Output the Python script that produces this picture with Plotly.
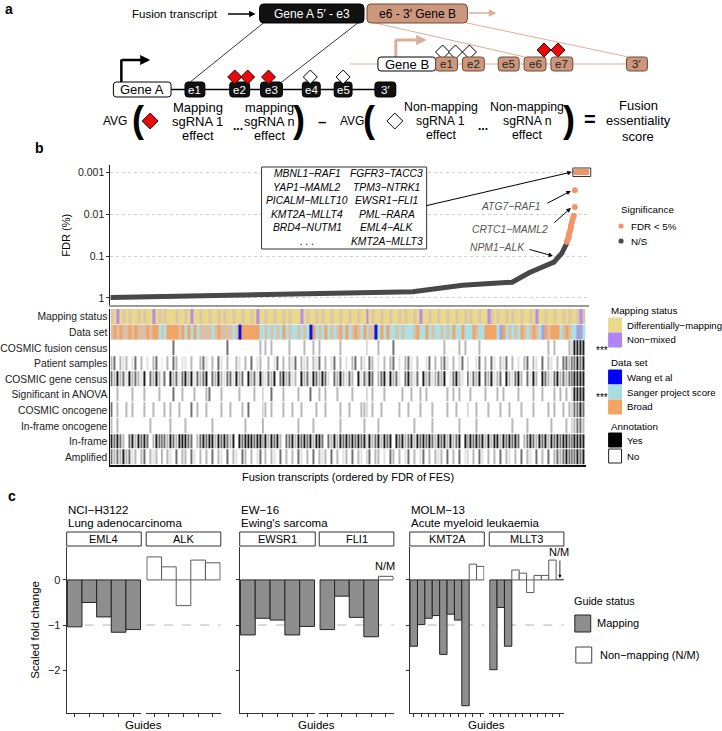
import plotly.graph_objects as go

W, H = 722, 731
FONT = "Liberation Sans, Arial, Helvetica, sans-serif"


def X(px):
    return px / W


def Y(py):
    return 1 - py / H


# ---------------- Panel b: FDR of fusion essentiality score ----------------
ns_rank = [0, 50, 100, 150, 200, 254, 304, 354, 404, 421, 434, 446, 454, 459]
ns_fdr = [0.98, 0.93, 0.88, 0.84, 0.80, 0.76, 0.71, 0.50, 0.42, 0.25, 0.18, 0.14, 0.085, 0.049]
sig_rank = [459, 460, 461, 461, 462, 463, 463, 464, 465, 466, 467, 467,
            468, 469, 470, 471, 472, 473, 474, 475, 476, 477, 478, 479, 480, 481]
sig_fdr = [0.046, 0.040, 0.035, 0.030, 0.026, 0.022, 0.019, 0.016, 0.013, 0.011, 0.0068, 0.0027,
           0.001, 0.001, 0.001, 0.001, 0.001, 0.001, 0.001, 0.001, 0.001, 0.001, 0.001, 0.001,
           0.001, 0.001]
fdr_ticks = [0.001, 0.01, 0.1, 1]
fdr_ticklabels = ["0.001", "0.01", "0.1", "1"]

top_fusions_left = ["MBNL1−RAF1", "YAP1−MAML2", "PICALM−MLLT10", "KMT2A−MLLT4", "BRD4−NUTM1", ". . ."]
top_fusions_right = ["FGFR3−TACC3", "TPM3−NTRK1", "EWSR1−FLI1", "PML−RARA", "EML4−ALK", "KMT2A−MLLT3"]

track_names = ["Mapping status", "Data set", "COSMIC fusion census", "Patient samples",
               "COSMIC gene census", "Significant in ANOVA", "COSMIC oncogene",
               "In-frame oncogene", "In-frame", "Amplified"]

# 0 differentially-mapping, 1 blended, 2 non-mixed
mapping_status = ("1020101001 0100201010 0010010200 1001001010 0100100102 0010010010 1000201001 0100100100 "
                  "1001002010 0100100101 0010200100 1001001001 0100100210 1001010010 0102001001 0010100121")
# 0 Broad, 1 blended, 2 Sanger, 3 Wang, 4 blended blue
data_set = ("1010110101 1101002120 0001020202 1111210111 1213000000 2212121202 1221212302 1202121020 "
            "2101202113 2020221212 2210220212 2121202202 2201220000 2402121201 2101240100 0210122442")
# annotation tracks: 0 = No ... 4 = Yes (grey levels where several fusions overlap)
cosmic_fusion = ("0000000000 0000000000 0300000000 0000000003 0000000000 2020200000 2000020020 2000000200 "
                 "0000002000 2000030000 0000000000 0020000202 0000200000 0000000000 0000000202 0000224444")
patient_samples = ("2302120130 2010230102 0320110200 2310203102 0021020301 2002013020 2130212021 3020130201 "
                   "0230210320 1020230102 3102001302 0231020130 2001302031 0213020102 3021030210 2033243434")
cosmic_gene = ("3242314232 1403242130 4231342413 2340324213 3142304231 4213240342 3120423143 2431032421 "
               "3204132430 2341423103 4213042312 3240134210 4132403241 2304213420 3142043213 4232344444")
anova = ("0020000200 0200002000 0300200020 0023000200 0002000020 0200300020 0002000300 2020002000 "
         "0200002020 0020000020 0200202000 0002020200 0200002000 2020000200 0020020002 0202024444")
cosmic_onc = ("3020020200 0200200020 2002000302 0020000200 2000203000 0220200020 0200200002 0020000200 "
              "2000222020 0200000200 2000200020 0002002000 2002000200 0200200020 0020000202 0020223343")
inframe_onc = ("2020000000 0002000000 2000020000 0000200000 0000020000 0300000000 0002000020 0000000200 "
               "0000020000 2000000000 0020000020 0000000200 0002000000 0000020000 2000000020 0002022332")
inframe = ("4343203424 3430243432 4324443302 3434424343 2404344434 4342434203 3424343424 4303242434 "
           "3434342423 4243404342 3424343432 4342423404 3434342424 4243434302 3432434243 4344344444")
amplified = ("3232423120 2302120302 1030220310 2020302103 0210320201 3020210302 0203102030 2120302012 "
             "0302102302 2010320201 3020130202 1203020301 2020310202 0302102030 2103020302 3234343434")

N_COL = 160


def parse(s):
    v = [int(c) for c in s.replace(" ", "")]
    return (v + [0] * N_COL)[:N_COL]


# ---------------- Panel c: scaled fold change per guide ----------------
eml4_fc = [-1.04, -0.50, -0.82, -1.16, -1.10]
eml4_map = ["M", "M", "M", "M", "M"]
alk_fc = [0.51, 0.29, -0.57, 0.44, 0.38]
alk_map = ["N", "N", "N", "N", "N"]
ewsr1_fc = [-1.22, -0.85, -0.89, -1.22, -1.03]
ewsr1_map = ["M", "M", "M", "M", "M"]
fli1_fc = [-1.10, -0.36, -0.83, -1.26, 0.08]
fli1_map = ["M", "M", "M", "M", "N"]
kmt2a_fc = [-1.47, -0.99, -0.85, -0.79, -1.65, -0.76, -0.89, -2.79, 0.35, 0.30]
kmt2a_map = ["M", "M", "M", "M", "M", "M", "M", "M", "N", "N"]
mllt3_fc = [-1.99, -0.61, -1.47, 0.22, 0.15, -0.28, 0.10, 0.10, 0.44, 0.01]
mllt3_map = ["M", "M", "M", "N", "N", "N", "N", "N", "N", "N"]
cell_lines = [("NCI−H3122", "Lung adenocarcinoma"), ("EW−16", "Ewing's sarcoma"),
              ("MOLM−13", "Acute myeloid leukaemia")]

# ======================================================================
fig = go.Figure()
shapes = []
annos = []


def txt(x, y, s, size=11, color="black", xanchor="center", angle=0, yanchor="middle"):
    annos.append(dict(x=X(x), y=Y(y), xref="paper", yref="paper", text=s, showarrow=False,
                      xanchor=xanchor, yanchor=yanchor, textangle=angle,
                      font=dict(size=size, color=color, family=FONT)))


def arrow(tx, ty, hx, hy, color="black", width=1, head=2, size=1.0):
    annos.append(dict(x=X(hx), y=Y(hy), xref="paper", yref="paper", ax=tx - hx, ay=ty - hy,
                      axref="pixel", ayref="pixel", text="", showarrow=True, arrowhead=head,
                      arrowsize=size, arrowwidth=width, arrowcolor=color, standoff=0))


def seg(x0, y0, x1, y1, color="black", width=1, dash=None):
    d = dict(type="line", xref="paper", yref="paper", x0=X(x0), y0=Y(y0), x1=X(x1), y1=Y(y1),
             line=dict(color=color, width=width))
    if dash:
        d["line"]["dash"] = dash
    shapes.append(d)


def rect(x0, y0, x1, y1, fill, line="black", lw=1):
    shapes.append(dict(type="rect", xref="paper", yref="paper", x0=X(x0), y0=Y(y0), x1=X(x1), y1=Y(y1),
                       fillcolor=fill, line=dict(color=line, width=lw)))


def rrect(x0, y0, x1, y1, fill, line="black", lw=1, r=3):
    p = (f"M {X(x0 + r):.5f},{Y(y0):.5f} L {X(x1 - r):.5f},{Y(y0):.5f} "
         f"Q {X(x1):.5f},{Y(y0):.5f} {X(x1):.5f},{Y(y0 + r):.5f} L {X(x1):.5f},{Y(y1 - r):.5f} "
         f"Q {X(x1):.5f},{Y(y1):.5f} {X(x1 - r):.5f},{Y(y1):.5f} L {X(x0 + r):.5f},{Y(y1):.5f} "
         f"Q {X(x0):.5f},{Y(y1):.5f} {X(x0):.5f},{Y(y1 - r):.5f} L {X(x0):.5f},{Y(y0 + r):.5f} "
         f"Q {X(x0):.5f},{Y(y0):.5f} {X(x0 + r):.5f},{Y(y0):.5f} Z")
    shapes.append(dict(type="path", path=p, xref="paper", yref="paper", fillcolor=fill,
                       line=dict(color=line, width=lw)))


def diamond(cx, cy, h, fill, line="black"):
    p = (f"M {X(cx):.5f},{Y(cy - h):.5f} L {X(cx + h):.5f},{Y(cy):.5f} "
         f"L {X(cx):.5f},{Y(cy + h):.5f} L {X(cx - h):.5f},{Y(cy):.5f} Z")
    shapes.append(dict(type="path", path=p, xref="paper", yref="paper", fillcolor=fill,
                       line=dict(color=line, width=1)))


def circle(cx, cy, r, fill):
    shapes.append(dict(type="circle", xref="paper", yref="paper", x0=X(cx - r), x1=X(cx + r),
                       y0=Y(cy - r), y1=Y(cy + r), fillcolor=fill, line=dict(width=0)))


TAN = "#cc977d"
TANLINE = "#dcae98"
TANEDGE = "#6e4a38"
RED = "#e60a0a"

# ---------------- Panel a schematic ----------------
txt(5, 9, "<b>a</b>", 14)
txt(217, 14, "Fusion transcript", 11.5, xanchor="right")
arrow(224, 14, 253, 14, "black", 1.3, 2, 1.0)
# diagonal connectors
seg(262, 22, 186, 83, "black", 0.8)
seg(357, 22, 278, 83, "black", 0.8)
seg(369, 22, 524, 57, TANLINE, 1)
seg(461, 22, 628, 57, TANLINE, 1)
rrect(257, 4, 362, 23, "#111111", "black", 1, 4)
txt(309.5, 13.5, "Gene A 5′ - e3", 12, "white")
rrect(365, 4, 466, 23, TAN, TANEDGE, 1, 4)
txt(415.5, 13.5, "e6 - 3′ Gene B", 12, "black")
arrow(466, 13, 495, 13, TANLINE, 1.5, 2, 1.0)

# Gene A line
seg(168, 89.5, 374, 89.5, "black", 1.5)
seg(118, 83, 118, 59.5, "black", 2.5)
arrow(117, 60, 147, 60, "black", 2.5, 2, 0.8)
rrect(110, 82, 168, 97, "white", "black", 1, 3)
txt(139, 89.5, "Gene A", 13)
for lbl, x0, x1 in [("e1", 182, 202), ("e2", 227, 247), ("e3", 258, 280), ("e4", 300, 318),
                    ("e5", 332, 350), ("3′", 373, 394)]:
    rrect(x0, 82, x1, 97, "#111111", "black", 1, 3)
    txt((x0 + x1) / 2, 89.5, lbl, 11.5, "white")
for cx in [232, 245, 266]:
    diamond(cx, 77, 7, RED, "#3a0000")
for cx in [308, 341]:
    diamond(cx, 77, 7, "white", "black")

# Gene B line
seg(348, 64, 648, 64, TANLINE, 1.2)
seg(394, 57, 394, 39.5, TANLINE, 3)
arrow(393, 40, 425, 40, TANLINE, 3, 2, 0.7)
for cx in [441, 454, 468]:
    diamond(cx, 52, 7, "white", "black")
for cx in [543, 557]:
    diamond(cx, 50, 7, RED, "#3a0000")
rrect(376, 57, 434, 71, "white", "black", 1, 3)
txt(405, 64, "Gene B", 13)
for lbl, x0, x1 in [("e1", 434, 456), ("e2", 461, 483), ("e5", 497, 518), ("e6", 523, 545),
                    ("e7", 550, 572), ("3′", 626, 647)]:
    rrect(x0, 57, x1, 71, TAN, TANEDGE, 1, 3)
    txt((x0 + x1) / 2, 64, lbl, 11.5, "#222222")

# formula row
txt(112, 121, "AVG", 12)
txt(135, 119, "<b>(</b>", 36)
diamond(147, 121, 8, RED, "#3a0000")
for i, s in enumerate(["Mapping", "sgRNA 1", "effect"]):
    txt(195, 107 + 14 * i, s, 13)
txt(235, 126, "<b>...</b>", 12)
for i, s in enumerate(["mapping", "sgRNA n", "effect"]):
    txt(267, 107 + 14 * i, s, 12.8)
txt(297, 119, "<b>)</b>", 36)
txt(320, 121, "<b>–</b>", 15)
txt(350, 121, "AVG", 12)
txt(367, 119, "<b>(</b>", 36)
diamond(393, 121, 8, "white", "black")
for i, s in enumerate(["Non-mapping", "sgRNA 1", "effect"]):
    txt(439, 107 + 14 * i, s, 12.3)
txt(482, 126, "<b>...</b>", 12)
for i, s in enumerate(["Non-mapping", "sgRNA n", "effect"]):
    txt(526, 107 + 14 * i, s, 12.3)
txt(568, 119, "<b>)</b>", 36)
txt(589, 119, "<b>=</b>", 20)
for i, s in enumerate(["Fusion", "essentiality", "score"]):
    txt(638, 105 + 15.5 * i, s, 13)

# ---------------- Panel b ----------------
txt(36, 148, "<b>b</b>", 14)
fig.add_trace(go.Scatter(x=ns_rank, y=ns_fdr, mode="lines", line=dict(color="#484848", width=5),
                         xaxis="x", yaxis="y", hoverinfo="skip"))
fig.add_trace(go.Scatter(x=sig_rank, y=sig_fdr, mode="markers", marker=dict(color="#f3946a", size=6),
                         xaxis="x", yaxis="y", hoverinfo="skip"))
txt(62, 235, "FDR (%)", 11, angle=-90)
rect(572, 168, 590, 176.5, "rgba(0,0,0,0)", "#333333", 1)

# fusion list box
rect(259, 167, 425, 249, "white", "#333333", 1)
for i, (a, b) in enumerate(zip(top_fusions_left, top_fusions_right)):
    txt(305, 173.5 + 13.6 * i, f"<i>{a}</i>", 10.3)
    txt(385, 173.5 + 13.6 * i, f"<i>{b}</i>", 10.3)
arrow(424, 206, 571, 172, "black", 1, 2, 0.9)
txt(541, 207, "<i>ATG7−RAF1</i>", 10.3, "#555555", xanchor="right")
arrow(545, 204, 570, 191, "black", 1, 2, 0.9)
txt(549, 229, "<i>CRTC1−MAML2</i>", 10.3, "#555555", xanchor="right")
arrow(552, 224, 570, 208, "black", 1, 2, 0.9)
txt(526, 247, "<i>NPM1−ALK</i>", 10.3, "#555555", xanchor="right")
arrow(527, 249, 552, 256, "black", 1, 2, 0.9)

# significance legend
txt(618, 209, "Significance", 9.8, xanchor="left")
circle(620.5, 226, 2.6, "#f3946a")
txt(628, 226, "FDR < 5%", 9.8, xanchor="left")
circle(620.5, 241, 2.6, "#484848")
txt(628, 241, "N/S", 9.8, xanchor="left")

# heatmap tracks
cols = list(range(N_COL))
fig.add_trace(go.Heatmap(z=[parse(mapping_status)], x=cols, y=[0], zmin=0, zmax=2,
                         colorscale=[[0, "#ead98a"], [0.5, "#dcc6a8"], [1, "#b48ee8"]],
                         showscale=False, xaxis="x2", yaxis="y2", ygap=1, hoverinfo="skip"))
fig.add_trace(go.Heatmap(z=[parse(data_set)], x=cols, y=[1], zmin=0, zmax=4,
                         colorscale=[[0, "#f2a466"], [0.25, "#dcc0a6"], [0.5, "#ade0e3"],
                                     [0.75, "#1010e0"], [1, "#a7a0dc"]],
                         showscale=False, xaxis="x2", yaxis="y2", ygap=1, hoverinfo="skip"))
ann_tracks = [cosmic_fusion, patient_samples, cosmic_gene, anova, cosmic_onc, inframe_onc, inframe, amplified]
fig.add_trace(go.Heatmap(z=[parse(t) for t in ann_tracks], x=cols, y=list(range(2, 10)), zmin=0, zmax=4,
                         colorscale=[[0, "#ffffff"], [0.25, "#e2e2e2"], [0.5, "#b8b8b8"],
                                     [0.75, "#707070"], [1, "#1e1e1e"]],
                         showscale=False, xaxis="x2", yaxis="y2", xgap=1, ygap=1, hoverinfo="skip"))
txt(593, 351, "***", 10, xanchor="left")
txt(593, 397, "***", 10, xanchor="left")
txt(346, 477, "Fusion transcripts (ordered by FDR of FES)", 11)

# heatmap legends
txt(608, 310, "Mapping status", 9.8, xanchor="left")
leg_items = [
    (325, "#ead98a", "Differentially−mapping"), (340, "#b084f4", "Non−mixed"),
    (377, "#0000ff", "Wang et al"), (392, "#a8dde1", "Sanger project score"), (407, "#f3a362", "Broad"),
    (440, "#000000", "Yes"), (456, "#ffffff", "No"),
]
for yy, col, lab in leg_items:
    rect(608, yy - 7, 621, yy + 7, col, "#222222" if col == "#ffffff" else col, 1)
    txt(624, yy, lab, 9.6, xanchor="left")
txt(608, 362, "Data set", 9.8, xanchor="left")
txt(608, 426, "Annotation", 9.8, xanchor="left")

# ---------------- Panel c ----------------
txt(8, 496, "<b>c</b>", 14)
facets = [
    ("EML4", eml4_fc, eml4_map, 63, 138),
    ("ALK", alk_fc, alk_map, 143, 218),
    ("EWSR1", ewsr1_fc, ewsr1_map, 237, 313),
    ("FLI1", fli1_fc, fli1_map, 317, 392),
    ("KMT2A", kmt2a_fc, kmt2a_map, 408, 483),
    ("MLLT3", mllt3_fc, mllt3_map, 488, 563),
]
layout_axes = {}
for i, (name, vals, stat, x0, x1) in enumerate(facets):
    k = i + 3
    n = len(vals)
    fig.add_trace(go.Bar(
        x=list(range(1, n + 1)), y=vals, width=1,
        marker=dict(color=["#8e8e8e" if s == "M" else "white" for s in stat],
                    line=dict(color=["#242424" if s == "M" else "#5a5a5a" for s in stat], width=1)),
        xaxis=f"x{k}", yaxis=f"y{k}", hoverinfo="skip"))
    layout_axes[f"xaxis{k}"] = dict(domain=[X(x0), X(x1)], anchor=f"y{k}", range=[0.45, n + 0.55],
                                    showline=True, linecolor="#333333", linewidth=1, ticks="outside",
                                    ticklen=3, tickcolor="#333333", tickvals=list(range(1, n + 1)),
                                    showticklabels=False, showgrid=False, zeroline=False)
    first = (i % 2 == 0)
    layout_axes[f"yaxis{k}"] = dict(domain=[Y(713), Y(547)], anchor=f"x{k}", range=[-2.95, 0.73],
                                    showgrid=False, zeroline=False, showline=first, linecolor="#333333",
                                    linewidth=1, ticks="outside" if first else "", ticklen=3,
                                    tickcolor="#333333", tickvals=[0, -1, -2], ticktext=["0", "−1", "−2"],
                                    showticklabels=(i == 0), tickfont=dict(size=11, color="#222222"))
    shapes.append(dict(type="line", xref=f"x{k} domain", yref=f"y{k}", x0=0, x1=1, y0=-1, y1=-1,
                       line=dict(color="#b5b5b5", width=1, dash="dash"), layer="below"))
    rect(x0, 532, x1, 546, "white", "#333333", 1)
    txt((x0 + x1) / 2, 539, name, 11)

for j, (l1, l2) in enumerate(cell_lines):
    gx0 = facets[2 * j][3]
    gx1 = facets[2 * j + 1][4]
    txt(gx0 - 1, 510, l1, 11.5, xanchor="left")
    txt(gx0 - 1, 522.5, l2, 11.5, xanchor="left")
    txt((gx0 + gx1) / 2, 725, "Guides", 11.5)

txt(31, 630, "Scaled fold change", 11.5, angle=-90)
txt(383, 566, "N/M", 11)
txt(558, 552, "N/M", 11)
arrow(559, 559, 559, 578, "black", 0.8, 2, 0.8)

txt(571, 601, "Guide status", 10.8, xanchor="left")
rect(574, 615, 590, 632, "#8e8e8e", "#242424", 1)
txt(594, 623, "Mapping", 11, xanchor="left")
rect(575, 647, 591, 663, "white", "#444444", 1)
txt(597, 655, "Non−mapping (N/M)", 11, xanchor="left")

fig.update_layout(
    width=W, height=H, margin=dict(l=0, r=0, t=0, b=0),
    paper_bgcolor="white", plot_bgcolor="rgba(0,0,0,0)", showlegend=False,
    font=dict(family=FONT, size=11, color="black"),
    xaxis=dict(domain=[X(107), X(588)], anchor="y", range=[0, 481], showline=True, linecolor="#9a9a9a",
               linewidth=2, showticklabels=False, ticks="", showgrid=False, zeroline=False),
    yaxis=dict(domain=[Y(305), Y(165)], anchor="x", type="log", range=[0.167, -3.167], showline=True,
               linecolor="#222222", linewidth=1, ticks="outside", ticklen=3, tickcolor="#333333",
               tickvals=fdr_ticks, ticktext=fdr_ticklabels, tickfont=dict(size=10.5, color="#222222"),
               showgrid=True, gridcolor="#cfcfcf", griddash="dot", gridwidth=1, zeroline=False),
    xaxis2=dict(domain=[X(107), X(585)], anchor="y2", range=[-0.5, N_COL - 0.5], showline=True,
                linecolor="#111111", linewidth=1.5, showticklabels=False, ticks="", showgrid=False,
                zeroline=False),
    yaxis2=dict(domain=[Y(465), Y(309)], anchor="x2", range=[9.5, -0.5], showline=True,
                linecolor="#111111", linewidth=1, tickvals=list(range(10)), ticktext=track_names,
                ticks="", tickfont=dict(size=10.3, color="#222222"), showgrid=False, zeroline=False),
    barmode="overlay",
    shapes=shapes, annotations=annos,
    **layout_axes,
)

fig.write_html("out.html", config={"displayModeBar": False},
               post_script="document.body.style.margin='0px';document.body.style.overflow='hidden';")
